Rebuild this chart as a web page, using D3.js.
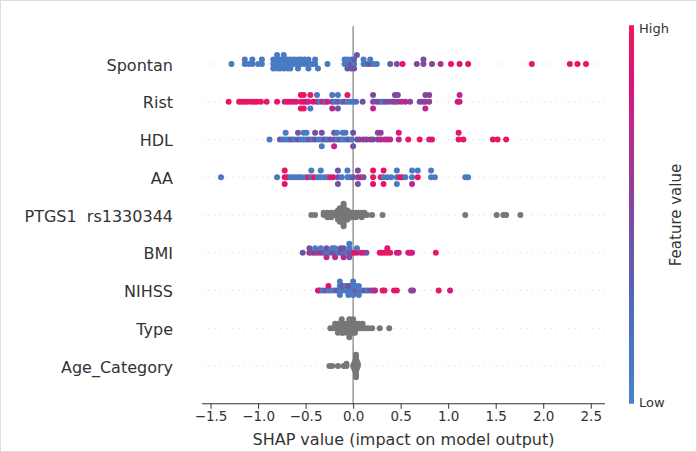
<!DOCTYPE html>
<html>
<head>
<meta charset="utf-8">
<script src="https://cdn.jsdelivr.net/npm/d3@7"></script>
<style>
  body { margin: 0; background: #fff; }
  svg { font-family: 'DejaVu Sans', sans-serif; }
</style>
</head>
<body>
<svg id="chart" width="697" height="452"></svg>
<script>
// feature names, top to bottom
const features = ['Spontan', 'Rist', 'HDL', 'AA', 'PTGS1  rs1330344', 'BMI', 'NIHSS', 'Type', 'Age_Category']
const xTicks = [-1.5, -1, -0.5, 0, 0.5, 1, 1.5, 2, 2.5]

// [shap value, feature value (0 low .. 1 high)], null = no colour (grey)
const spontan = [[-1.28,.1],[-1.14,.1],[-1.14,.1],[-1.10,.1],[-1.06,.1],[-1.06,.1],[-1.00,.1],[-0.96,.1],
  [-0.96,.1],[-0.84,.1],[-0.84,.1],[-0.84,.1],[-0.80,.1],[-0.80,.1],[-0.80,.1],[-0.80,.1],[-0.77,.1],
  [-0.77,.1],[-0.77,.1],[-0.73,.1],[-0.73,.1],[-0.73,.1],[-0.73,.1],[-0.69,.1],[-0.69,.1],[-0.69,.1],
  [-0.66,.1],[-0.66,.1],[-0.66,.1],[-0.62,.1],[-0.62,.1],[-0.58,.1],[-0.58,.1],[-0.58,.1],[-0.55,.1],
  [-0.55,.1],[-0.51,.1],[-0.51,.1],[-0.47,.1],[-0.47,.1],[-0.47,.1],[-0.43,.1],[-0.40,.1],[-0.40,.1],
  [-0.37,.1],[-0.27,.1],[-0.09,.1],[-0.09,.1],[-0.06,.15],[-0.06,.1],[-0.06,.4],[-0.02,.45],[-0.02,.1],
  [-0.02,.4],[0.01,.1],[0.01,.35],[0.01,.45],[0.04,.4],[0.11,.1],[0.11,.1],[0.15,.3],[0.18,.4],
  [0.18,.1],[0.22,.1],[0.25,.1],[0.39,.35],[0.46,.5],[0.52,.9],[0.67,.55],[0.74,.5],[0.74,.45],
  [0.83,.6],[0.92,.65],[1.03,.92],[1.12,.9],[1.21,.9],[1.88,.95],[2.28,.95],[2.36,.95],[2.45,.95]]

const rist = [[-1.31,.95],[-1.20,.9],[-1.17,.95],[-1.14,.9],[-1.11,.95],[-1.07,.9],[-1.04,.95],[-1.01,.9],
  [-0.97,.95],[-0.91,.9],[-0.80,.9],[-0.72,.75],[-0.69,.95],[-0.66,.9],[-0.63,.95],[-0.60,.8],
  [-0.55,.95],[-0.55,.9],[-0.55,.95],[-0.52,.9],[-0.52,.95],[-0.52,.92],[-0.49,.9],[-0.47,.75],
  [-0.45,.95],[-0.45,.1],[-0.42,.9],[-0.38,.8],[-0.38,.1],[-0.35,.1],[-0.32,.8],[-0.29,.1],[-0.27,.9],
  [-0.22,.45],[-0.22,.1],[-0.22,.75],[-0.19,.1],[-0.16,.4],[-0.16,.1],[-0.16,.45],[-0.12,.1],
  [-0.09,.45],[-0.06,.1],[-0.06,.95],[-0.03,.1],[0.0,.1],[0.03,.15],[0.10,.45],[0.21,.5],[0.21,.5],
  [0.21,.75],[0.25,.5],[0.28,.45],[0.31,.1],[0.34,.5],[0.37,.45],[0.41,.5],[0.44,.55],[0.44,.5],
  [0.47,.6],[0.47,.5],[0.51,.7],[0.55,.75],[0.60,.55],[0.70,.5],[0.73,.55],[0.76,.55],[0.76,.5],
  [0.76,.75],[0.80,.6],[0.80,.55],[1.10,.8],[1.12,.8],[1.12,.75]]

const hdl = [[-0.88,.1],[-0.77,.45],[-0.74,.1],[-0.71,.1],[-0.71,.1],[-0.68,.1],[-0.65,.45],[-0.62,.1],
  [-0.58,.45],[-0.58,.45],[-0.55,.1],[-0.52,.1],[-0.52,.1],[-0.49,.1],[-0.49,.1],[-0.46,.45],[-0.43,.1],
  [-0.40,.45],[-0.40,.45],[-0.36,.1],[-0.33,.1],[-0.33,.45],[-0.33,.1],[-0.30,.45],[-0.27,.1],
  [-0.24,.45],[-0.20,.45],[-0.20,.45],[-0.20,.75],[-0.17,.1],[-0.17,.1],[-0.14,.45],[-0.11,.1],
  [-0.11,.1],[-0.08,.1],[-0.08,.15],[-0.05,.45],[-0.02,.1],[0.0,.45],[0.0,.45],[0.04,.4],[0.07,.5],
  [0.11,.75],[0.14,.5],[0.18,.6],[0.21,.5],[0.26,.5],[0.26,.5],[0.29,.75],[0.29,.55],[0.33,.7],
  [0.36,.75],[0.39,.75],[0.48,.75],[0.48,.9],[0.58,.95],[0.70,.95],[0.80,.75],[0.83,.92],[1.11,.95],
  [1.11,.92],[1.16,.95],[1.47,.95],[1.52,.95],[1.61,.95]]

const aa = [[-1.39,.1],[-0.80,.1],[-0.72,.92],[-0.72,.95],[-0.72,.9],[-0.69,.95],[-0.66,.1],[-0.63,.1],
  [-0.60,.1],[-0.57,.1],[-0.54,.1],[-0.50,.1],[-0.47,.95],[-0.44,.1],[-0.44,.1],[-0.41,.95],[-0.37,.1],
  [-0.34,.1],[-0.34,.1],[-0.30,.1],[-0.27,.1],[-0.24,.95],[-0.21,.9],[-0.16,.45],[-0.16,.45],
  [-0.16,.45],[-0.12,.1],[-0.06,.1],[-0.06,.1],[-0.03,.1],[0.0,.45],[0.05,.45],[0.05,.5],[0.05,.45],
  [0.08,.95],[0.11,.45],[0.21,.95],[0.21,.95],[0.21,.9],[0.29,.95],[0.32,.1],[0.32,.9],[0.32,.95],
  [0.36,.1],[0.40,.1],[0.46,.1],[0.46,.1],[0.46,.1],[0.49,.95],[0.52,.95],[0.55,.1],[0.62,.1],
  [0.62,.1],[0.62,.75],[0.68,.95],[0.68,.1],[0.82,.1],[0.82,.1],[0.86,.1],[1.18,.1],[1.21,.1]]

const ptgs1 = [[-0.44,null],[-0.40,null],[-0.31,null],[-0.31,null],[-0.27,null],[-0.27,null],[-0.27,null],
  [-0.23,null],[-0.23,null],[-0.23,null],[-0.19,null],[-0.19,null],[-0.16,null],[-0.16,null],[-0.16,null],
  [-0.16,null],[-0.16,null],[-0.14,null],[-0.14,null],[-0.14,null],[-0.14,null],[-0.14,null],[-0.14,null],
  [-0.14,null],[-0.12,null],[-0.12,null],[-0.12,null],[-0.12,null],[-0.12,null],[-0.10,null],[-0.10,null],
  [-0.10,null],[-0.10,null],[-0.10,null],[-0.10,null],[-0.08,null],[-0.08,null],[-0.08,null],[-0.08,null],
  [-0.06,null],[-0.06,null],[-0.06,null],[-0.06,null],[-0.06,null],[-0.04,null],[-0.04,null],[-0.04,null],
  [-0.02,null],[-0.02,null],[-0.02,null],[0.0,null],[0.0,null],[0.0,null],[0.03,null],[0.03,null],
  [0.03,null],[0.06,null],[0.06,null],[0.09,null],[0.09,null],[0.09,null],[0.12,null],[0.12,null],
  [0.15,null],[0.20,null],[0.31,null],[1.18,null],[1.51,null],[1.58,null],[1.61,null],[1.76,null]]

const bmi = [[-0.53,.45],[-0.46,.75],[-0.46,.45],[-0.43,.45],[-0.40,.75],[-0.40,.1],[-0.37,.45],
  [-0.34,.75],[-0.34,.1],[-0.31,.45],[-0.28,.1],[-0.28,.45],[-0.28,.75],[-0.25,.1],[-0.22,.45],
  [-0.22,.1],[-0.19,.45],[-0.19,.1],[-0.19,.75],[-0.16,.1],[-0.13,.45],[-0.13,.5],[-0.10,.1],
  [-0.10,.45],[-0.10,.75],[-0.07,.1],[-0.04,.45],[-0.04,.1],[-0.04,.45],[-0.04,.1],[-0.01,.45],
  [0.01,.95],[0.04,.9],[0.04,.1],[0.08,.75],[0.11,.95],[0.14,.45],[0.28,.95],[0.30,.92],[0.33,.95],
  [0.36,.95],[0.36,.92],[0.39,.95],[0.46,.8],[0.48,.8],[0.58,.8],[0.60,.8],[0.62,.8],[0.87,.95]]

const nihss = [[-0.37,.8],[-0.35,.92],[-0.32,.1],[-0.29,.45],[-0.26,.1],[-0.26,.9],[-0.23,.1],[-0.20,.1],
  [-0.17,.45],[-0.14,.1],[-0.14,.1],[-0.14,.1],[-0.14,.1],[-0.11,.1],[-0.11,.45],[-0.08,.1],[-0.08,.1],
  [-0.05,.1],[-0.05,.45],[-0.05,.1],[-0.02,.1],[-0.02,.45],[0.0,.1],[0.0,.1],[0.0,.1],[0.0,.1],
  [0.03,.45],[0.03,.1],[0.06,.1],[0.06,.1],[0.06,.1],[0.09,.1],[0.12,.45],[0.15,.1],[0.18,.45],
  [0.21,.5],[0.23,.75],[0.31,.95],[0.33,.92],[0.43,.95],[0.46,.92],[0.61,.55],[0.63,.55],[0.90,.95],
  [1.02,.8]]

const type = [[-0.24,null],[-0.22,null],[-0.19,null],[-0.19,null],[-0.16,null],[-0.16,null],[-0.16,null],
  [-0.14,null],[-0.14,null],[-0.12,null],[-0.12,null],[-0.12,null],[-0.12,null],[-0.10,null],[-0.10,null],
  [-0.10,null],[-0.08,null],[-0.08,null],[-0.06,null],[-0.06,null],[-0.06,null],[-0.04,null],[-0.04,null],
  [-0.04,null],[-0.04,null],[-0.04,null],[-0.02,null],[-0.02,null],[-0.02,null],[0.0,null],[0.0,null],
  [0.0,null],[0.0,null],[0.02,null],[0.02,null],[0.02,null],[0.04,null],[0.04,null],[0.06,null],
  [0.06,null],[0.08,null],[0.10,null],[0.10,null],[0.13,null],[0.16,null],[0.20,null],[0.28,null],
  [0.38,null]]

const ageCategory = [[-0.25,null],[-0.22,null],[-0.16,null],[-0.10,null],[-0.07,null],[-0.07,null],
  [0.0,null],[0.01,null],[0.01,null],[0.01,null],[0.02,null],[0.02,null],[0.02,null],[0.02,null],
  [0.02,null],[0.03,null],[0.03,null],[0.03,null],[0.03,null],[0.03,null],[0.03,null],[0.03,null],
  [0.03,null],[0.03,null],[0.03,null],[0.03,null],[0.04,null],[0.04,null],[0.04,null],[0.04,null],
  [0.05,null],[0.05,null]]

const rows = [spontan, rist, hdl, aa, ptgs1, bmi, nihss, type, ageCategory]

const svg = d3.select('#chart')

// light frame round the figure
svg.append('rect')
  .attr('x', 0.5).attr('y', 0.5)
  .attr('width', 696).attr('height', 451)
  .attr('fill', 'none').attr('stroke', '#dddddd')

// scales
const x = d3.scaleLinear().domain([-1.59, 2.65]).range([202, 605])
const rowStep = 37.75
const y = d3.scaleLinear().domain([0, features.length - 1]).range([64, 64 + rowStep * 8])
const axisY = y(features.length - 1) + rowStep
const topY = y(0) - rowStep

const color = d3.scaleLinear()
  .domain([0, 0.3, 0.5, 0.7, 0.85, 1])
  .range(['#4584c9', '#5566b2', '#7d4a9f', '#b12f95', '#df117b', '#ee1a55'])

// dotted row lines
svg.append('g')
  .selectAll('line')
  .data(features)
  .join('line')
  .attr('x1', 202).attr('x2', 605)
  .attr('y1', (d, i) => y(i)).attr('y2', (d, i) => y(i))
  .attr('stroke', '#cccccc')
  .attr('stroke-width', 0.8)
  .attr('stroke-dasharray', '1,5')

// zero line
svg.append('line')
  .attr('x1', x(0)).attr('x2', x(0))
  .attr('y1', topY).attr('y2', axisY)
  .attr('stroke', '#999999')
  .attr('stroke-width', 1.5)

// beeswarm points, shap-style binning
const rowHeight = 0.4 * rowStep
const nbins = 100
rows.forEach((pts, i) => {
  const vals = pts.map(p => p[0])
  const lo = d3.min(vals), hi = d3.max(vals)
  const items = pts.map((p, k) => ({ shap: p[0], val: p[1], q: Math.round(nbins * (p[0] - lo) / (hi - lo + 1e-8)), k }))
  const order = items.slice().sort((a, b) => a.q - b.q || a.k - b.k)
  let layer = 0, last = -1
  order.forEach(d => {
    if (d.q !== last) layer = 0
    d.ys = Math.ceil(layer / 2) * ((layer % 2) * 2 - 1)
    layer += 1
    last = d.q
  })
  const scale = 0.9 * rowHeight / (d3.max(order, d => d.ys) + 1)

  svg.append('g')
    .selectAll('circle')
    .data(items)
    .join('circle')
    .attr('cx', d => x(d.shap))
    .attr('cy', d => y(i) - d.ys * scale)
    .attr('r', 3)
    .attr('fill', d => d.val === null ? '#777777' : color(d.val))
})

// feature labels
svg.append('g')
  .selectAll('text')
  .data(features)
  .join('text')
  .attr('x', 173)
  .attr('y', (d, i) => y(i) + 1)
  .attr('dy', '0.35em')
  .attr('text-anchor', 'end')
  .attr('font-size', 16)
  .attr('fill', '#333333')
  .style('white-space', 'pre')
  .text(d => d)

// x axis
const xAxis = svg.append('g')
  .attr('transform', 'translate(0,' + axisY + ')')
  .call(d3.axisBottom(x).tickValues(xTicks).tickFormat(d3.format('.1f')).tickSize(5).tickPadding(3))
xAxis.select('.domain').attr('stroke', '#333333').attr('d', 'M202,0H605')
xAxis.selectAll('.tick line').attr('stroke', '#333333')
xAxis.selectAll('.tick text')
  .attr('font-size', 13.5)
  .attr('font-family', 'DejaVu Sans, sans-serif')
  .attr('fill', '#333333')

svg.append('text')
  .attr('x', x(0.53))
  .attr('y', 445)
  .attr('text-anchor', 'middle')
  .attr('font-size', 16)
  .attr('fill', '#333333')
  .text('SHAP value (impact on model output)')

// colour bar
const defs = svg.append('defs')
const grad = defs.append('linearGradient')
  .attr('id', 'cbar')
  .attr('x1', 0).attr('x2', 0).attr('y1', 1).attr('y2', 0)
grad.selectAll('stop')
  .data(d3.range(0, 1.001, 0.05))
  .join('stop')
  .attr('offset', d => d)
  .attr('stop-color', d => color(d))

svg.append('rect')
  .attr('x', 629).attr('y', topY - 1)
  .attr('width', 5).attr('height', axisY - topY + 1)
  .attr('fill', 'url(#cbar)')

svg.append('text')
  .attr('x', 639).attr('y', topY + 2)
  .attr('dy', '0.35em')
  .attr('font-size', 13)
  .attr('fill', '#333333')
  .text('High')

svg.append('text')
  .attr('x', 639).attr('y', axisY - 1)
  .attr('dy', '0.35em')
  .attr('font-size', 13)
  .attr('fill', '#333333')
  .text('Low')

svg.append('text')
  .attr('transform', 'translate(681,' + (topY + axisY) / 2 + ') rotate(-90)')
  .attr('text-anchor', 'middle')
  .attr('font-size', 15)
  .attr('fill', '#333333')
  .text('Feature value')
</script>
</body>
</html>
